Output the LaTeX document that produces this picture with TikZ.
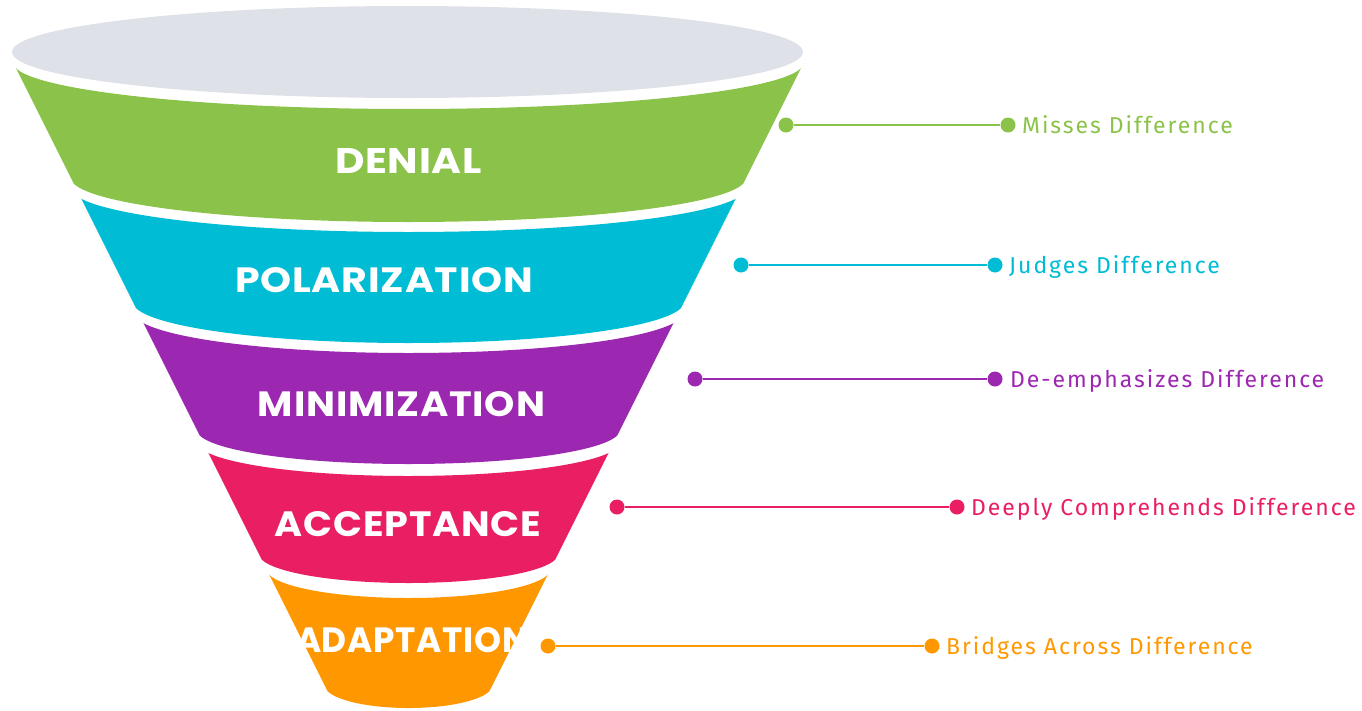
\documentclass[tikz,border=0pt]{standalone}
\usepackage{fontspec}
\newfontfamily\bandfont{Poppins}[LetterSpace=2]
\newfontfamily\labfont{Fira Sans}[LetterSpace=8.5]
\definecolor{cgrey}{HTML}{DEE2E8}
\definecolor{cgreen}{HTML}{8BC34A}
\definecolor{ccyan}{HTML}{00BCD4}
\definecolor{cpurple}{HTML}{9C27B0}
\definecolor{cpink}{HTML}{E91E63}
\definecolor{corange}{HTML}{FF9800}
% band: color, Rt, cyt, ryt, Rb, cyb, ryb
\newcommand{\funnelband}[7]{%
  \fill[#1] plot[domain=180:0,samples=120] ({408.5+#2*cos(\x)},{#3+#4*sin(\x)})
    -- (900,#3) -- (900,#6)
    -- plot[domain=0:180,samples=120] ({408.5+#5*cos(\x)},{#6+#7*sin(\x)})
    -- (-100,#6) -- (-100,#3) -- cycle;}
\newcommand{\bandtext}[2]{\resizebox{#1pt}{25pt}{#2}}
\begin{document}
\begin{tikzpicture}[x=1pt,y=-1pt,
  bandlab/.style={text=white, inner sep=0pt, font=\bandfont\bfseries\fontsize{36}{40}\selectfont},
  dot/.style={circle, fill=#1, inner sep=0pt, minimum size=15pt},
  conn/.style={draw=#1, line width=2.3pt},
  lab/.style={text=#1, inner sep=0pt, anchor=base west, font=\labfont\fontsize{23}{26}\selectfont}]
\useasboundingbox (0,0) rectangle (1362,710);
\fill[cgrey] (407.5,52) ellipse [x radius=395.5pt, y radius=46pt];
\begin{scope}
  \clip (-18,0) -- (835,0) -- (408.5,853) -- cycle;
  \funnelband{cgreen}{395}{63}{46}{337.5}{178}{44}
  \funnelband{ccyan}{337.5}{188}{44}{275.5}{302}{41}
  \funnelband{cpurple}{275.5}{312}{41}{211.5}{430}{34}
  \funnelband{cpink}{211.5}{442}{34}{149.5}{554}{29}
  \funnelband{corange}{142}{569}{29}{84}{685}{23}
\end{scope}
\node[bandlab] (b1) at (408.5,161) {\bandtext{147}{DENIAL}};
\node[bandlab] (b2) at (384,280.5) {\bandtext{298}{POLARIZATION}};
\node[bandlab] (b3) at (401.5,404) {\bandtext{287}{MINIMIZATION}};
\node[bandlab] (b4) at (408,524) {\bandtext{266}{ACCEPTANCE}};
\node[bandlab] (b5) at (412,640.5) {\bandtext{232}{ADAPTATION}};
% connectors
\node[dot=cgreen] (d1a) at (786,125) {};
\node[dot=cgreen] (d1b) at (1008,125) {};
\draw[conn=cgreen] (d1a) -- (d1b);
\node[lab=cgreen] (t1) at (1022,133) {Misses Difference};
\node[dot=ccyan] (d2a) at (741,265) {};
\node[dot=ccyan] (d2b) at (995,265) {};
\draw[conn=ccyan] (d2a) -- (d2b);
\node[lab=ccyan] (t2) at (1009,273) {Judges Difference};
\node[dot=cpurple] (d3a) at (695,379) {};
\node[dot=cpurple] (d3b) at (995,379) {};
\draw[conn=cpurple] (d3a) -- (d3b);
\node[lab=cpurple] (t3) at (1010,387) {De-emphasizes Difference};
\node[dot=cpink] (d4a) at (617,507) {};
\node[dot=cpink] (d4b) at (957,507) {};
\draw[conn=cpink] (d4a) -- (d4b);
\node[lab=cpink] (t4) at (971,515) {Deeply Comprehends Difference};
\node[dot=corange] (d5a) at (548,646) {};
\node[dot=corange] (d5b) at (932,646) {};
\draw[conn=corange] (d5a) -- (d5b);
\node[lab=corange] (t5) at (946,654) {Bridges Across Difference};
\end{tikzpicture}
\end{document}
